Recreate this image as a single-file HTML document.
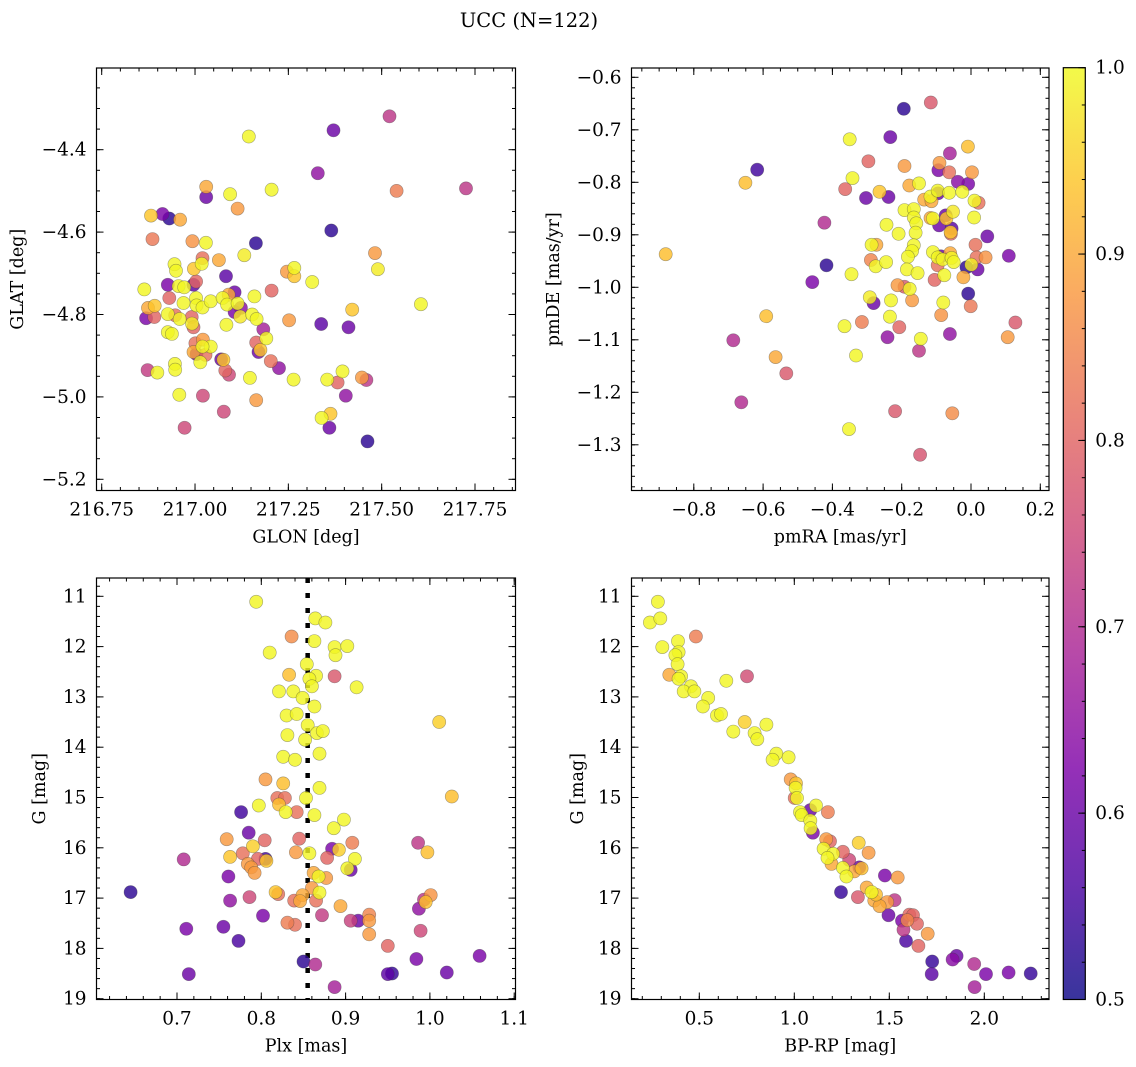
<!DOCTYPE html>
<html><head><meta charset="utf-8"><style>
html,body{margin:0;padding:0;background:#fff;}
svg{display:block;font-family:"DejaVu Serif","Liberation Serif",serif;}
</style></head><body>
<svg id="fig" width="1136" height="1067" viewBox="0 0 1136 1067" xmlns="http://www.w3.org/2000/svg">
<defs>
<linearGradient id="plasmaGrad" x1="0" y1="1" x2="0" y2="0">
<stop offset="0" stop-color="#0d0887"/><stop offset="0.125" stop-color="#4c02a1"/><stop offset="0.25" stop-color="#7e03a8"/><stop offset="0.375" stop-color="#a92395"/><stop offset="0.5" stop-color="#cc4778"/><stop offset="0.625" stop-color="#e56b5d"/><stop offset="0.75" stop-color="#f89540"/><stop offset="0.875" stop-color="#fdc328"/><stop offset="1" stop-color="#f0f921"/>
</linearGradient>
</defs>
<text x="529" y="27" font-size="19.5" text-anchor="middle">UCC (N=122)</text>
<g id="layer"></g>
</svg>
<script>
// ---- Panel 1: GLON vs GLAT ----
const p1_glon=[217.521,217.371,217.144,217.329,217.726,217.540,217.030,217.030,217.094,217.205,217.114,216.882,216.913,216.931,216.960,216.886,216.993,217.029,217.163,217.365,217.482,217.490,217.132,217.064,217.020,217.018,216.945,216.949,216.997,217.246,217.266,217.266,217.314,217.083,216.864,216.927,216.956,216.971,216.996,217.003,216.931,216.969,217.003,217.004,217.020,217.042,217.074,217.090,217.106,217.086,217.114,217.123,217.106,217.121,217.159,217.205,217.153,217.165,216.874,216.892,216.869,216.891,216.927,216.947,216.959,216.991,216.992,216.996,216.927,216.938,217.084,217.252,217.338,217.411,217.421,217.605,217.183,217.191,217.164,217.170,217.175,217.021,217.001,217.042,217.020,216.996,217.028,217.004,217.014,217.070,217.076,217.081,217.091,217.203,217.225,216.873,216.899,216.946,216.947,217.147,217.264,217.354,217.395,217.382,217.447,217.459,216.958,217.021,217.164,217.404,217.077,217.339,217.363,217.360,216.972,217.462];
const p1_glat=[-4.319,-4.353,-4.368,-4.457,-4.494,-4.500,-4.490,-4.515,-4.508,-4.497,-4.543,-4.560,-4.556,-4.567,-4.570,-4.617,-4.622,-4.626,-4.627,-4.596,-4.651,-4.690,-4.656,-4.668,-4.663,-4.677,-4.678,-4.694,-4.689,-4.696,-4.687,-4.707,-4.721,-4.707,-4.739,-4.728,-4.731,-4.734,-4.728,-4.720,-4.760,-4.772,-4.760,-4.778,-4.783,-4.768,-4.760,-4.752,-4.746,-4.776,-4.773,-4.784,-4.794,-4.805,-4.756,-4.742,-4.800,-4.811,-4.784,-4.779,-4.809,-4.806,-4.799,-4.802,-4.811,-4.806,-4.822,-4.831,-4.843,-4.847,-4.825,-4.814,-4.823,-4.831,-4.788,-4.775,-4.836,-4.858,-4.868,-4.891,-4.886,-4.861,-4.870,-4.878,-4.878,-4.891,-4.898,-4.896,-4.916,-4.909,-4.910,-4.936,-4.946,-4.913,-4.930,-4.935,-4.941,-4.920,-4.934,-4.954,-4.958,-4.958,-4.938,-4.965,-4.953,-4.959,-4.995,-4.997,-5.008,-4.997,-5.036,-5.051,-5.041,-5.075,-5.075,-5.108];
const p1_prob=[0.72,0.6,0.995,0.65,0.72,0.84,0.9,0.6,0.995,0.995,0.88,0.94,0.62,0.53,0.9,0.83,0.87,0.995,0.53,0.53,0.88,0.985,0.985,0.9,0.82,0.995,0.995,0.995,0.94,0.88,0.995,0.94,0.995,0.58,0.995,0.62,0.995,0.995,0.58,0.8,0.8,0.995,0.995,0.995,0.995,0.995,0.995,0.9,0.6,0.995,0.995,0.64,0.62,0.98,0.995,0.8,0.995,0.995,0.9,0.94,0.62,0.8,0.995,0.82,0.995,0.8,0.985,0.8,0.995,0.995,0.995,0.88,0.58,0.6,0.94,0.995,0.68,0.995,0.8,0.6,0.94,0.88,0.82,0.995,0.995,0.9,0.82,0.6,0.995,0.6,0.94,0.8,0.75,0.82,0.65,0.73,0.995,0.995,0.995,0.995,0.995,0.995,0.995,0.8,0.88,0.72,0.995,0.75,0.88,0.65,0.75,0.995,0.94,0.6,0.75,0.53];
const p1_xticks=[216.75,217.00,217.25,217.50,217.75];
const p1_xlabels=["216.75","217.00","217.25","217.50","217.75"];
const p1_yticks=[-4.4,-4.6,-4.8,-5.0,-5.2];
const p1_ylabels=["\u22124.4","\u22124.6","\u22124.8","\u22125.0","\u22125.2"];
// ---- Panel 2: pmRA vs pmDE ----
const p2_pmra=[-0.194,-0.116,-0.233,-0.350,-0.009,-0.061,-0.617,-0.651,-0.296,-0.192,-0.091,-0.094,-0.063,0.003,-0.342,-0.363,-0.038,-0.008,-0.303,-0.238,-0.264,-0.178,-0.150,-0.135,-0.114,-0.117,-0.096,-0.063,-0.025,0.010,0.022,-0.095,-0.192,-0.165,-0.165,-0.117,-0.110,-0.073,-0.052,0.009,-0.092,-0.071,-0.056,-0.058,-0.059,-0.244,-0.158,-0.160,-0.209,-0.423,0.047,-0.287,-0.273,-0.165,-0.170,-0.110,-0.087,-0.060,-0.096,-0.082,-0.056,-0.050,0.013,0.016,0.042,0.109,-0.881,-0.417,-0.458,-0.289,-0.275,-0.245,-0.182,-0.096,-0.013,0.019,0.001,-0.022,-0.077,-0.105,-0.185,-0.154,-0.345,-0.212,-0.177,-0.192,-0.008,-0.292,-0.281,-0.231,-0.170,-0.080,-0.001,-0.591,-0.234,-0.086,-0.315,-0.365,-0.207,0.128,0.106,-0.686,-0.241,-0.061,-0.145,-0.150,-0.332,-0.564,-0.533,-0.663,-0.219,-0.054,-0.352,-0.147];
const p2_pmde=[-0.660,-0.648,-0.714,-0.718,-0.732,-0.745,-0.776,-0.801,-0.760,-0.769,-0.763,-0.777,-0.781,-0.781,-0.792,-0.813,-0.799,-0.803,-0.830,-0.828,-0.818,-0.806,-0.802,-0.833,-0.836,-0.827,-0.816,-0.820,-0.818,-0.835,-0.839,-0.821,-0.853,-0.851,-0.867,-0.868,-0.869,-0.863,-0.856,-0.867,-0.882,-0.869,-0.888,-0.898,-0.895,-0.881,-0.878,-0.896,-0.898,-0.877,-0.903,-0.919,-0.919,-0.920,-0.931,-0.933,-0.941,-0.935,-0.943,-0.947,-0.944,-0.952,-0.919,-0.943,-0.943,-0.940,-0.937,-0.958,-0.990,-0.948,-0.960,-0.952,-0.942,-0.958,-0.962,-0.966,-0.957,-0.981,-0.977,-0.986,-0.966,-0.973,-0.975,-0.996,-1.003,-0.999,-1.012,-1.019,-1.030,-1.025,-1.025,-1.029,-1.036,-1.055,-1.056,-1.053,-1.066,-1.074,-1.076,-1.067,-1.095,-1.101,-1.095,-1.089,-1.098,-1.121,-1.130,-1.133,-1.164,-1.219,-1.236,-1.240,-1.270,-1.319];
const p2_prob=[0.53,0.78,0.6,0.995,0.93,0.68,0.55,0.93,0.8,0.88,0.88,0.62,0.82,0.88,0.995,0.8,0.64,0.62,0.6,0.6,0.94,0.9,0.995,0.9,0.9,0.995,0.995,0.995,0.995,0.995,0.82,0.6,0.995,0.995,0.995,0.9,0.995,0.6,0.98,0.995,0.6,0.94,0.58,0.8,0.94,0.995,0.995,0.995,0.995,0.7,0.6,0.995,0.9,0.995,0.995,0.995,0.6,0.9,0.995,0.995,0.995,0.995,0.82,0.82,0.87,0.62,0.93,0.53,0.62,0.85,0.995,0.995,0.995,0.82,0.53,0.6,0.985,0.9,0.995,0.8,0.995,0.995,0.995,0.88,0.995,0.78,0.53,0.985,0.6,0.995,0.88,0.995,0.83,0.93,0.995,0.87,0.84,0.995,0.8,0.78,0.88,0.7,0.65,0.65,0.995,0.72,0.995,0.9,0.78,0.7,0.78,0.86,0.995,0.77];
const p2_xticks=[-0.8,-0.6,-0.4,-0.2,0.0,0.2];
const p2_xlabels=["\u22120.8","\u22120.6","\u22120.4","\u22120.2","0.0","0.2"];
const p2_yticks=[-0.6,-0.7,-0.8,-0.9,-1.0,-1.1,-1.2,-1.3];
const p2_ylabels=["\u22120.6","\u22120.7","\u22120.8","\u22120.9","\u22121.0","\u22121.1","\u22121.2","\u22121.3"];
// ---- Panel 3: Plx vs G ----
const p3_plx=[0.794,0.864,0.876,0.836,0.863,0.887,0.902,0.888,0.810,0.854,0.833,0.865,0.887,0.857,0.860,0.913,0.821,0.838,0.849,0.863,0.830,0.842,1.011,0.855,0.866,0.873,0.831,0.852,0.869,0.826,0.840,0.805,0.826,0.869,0.819,0.828,0.853,1.026,0.797,0.821,0.829,0.842,0.776,0.863,0.898,0.886,0.785,0.759,0.804,0.845,0.790,0.908,0.986,0.884,0.892,0.841,0.857,0.778,0.763,0.708,0.805,0.806,0.796,0.878,0.911,0.997,0.784,0.788,0.792,0.906,0.902,0.761,0.862,0.868,0.877,0.645,0.817,0.820,0.869,0.860,0.786,0.763,0.849,0.839,0.846,0.865,0.894,1.001,0.993,0.995,0.987,0.802,0.872,0.831,0.840,0.906,0.915,0.928,0.928,0.928,0.989,0.711,0.755,0.773,0.950,0.850,0.864,0.984,1.059,0.714,0.950,0.955,1.020,0.887];
const p3_g=[11.11,11.44,11.52,11.80,11.89,12.01,11.99,12.17,12.12,12.35,12.56,12.58,12.59,12.64,12.79,12.81,12.89,12.89,13.02,13.19,13.37,13.34,13.50,13.56,13.72,13.68,13.76,13.85,14.13,14.19,14.25,14.64,14.72,14.81,15.01,15.01,15.01,14.98,15.16,15.14,15.29,15.29,15.29,15.35,15.44,15.61,15.70,15.83,15.85,15.82,15.97,15.90,15.90,16.02,16.04,16.09,16.11,16.11,16.18,16.23,16.22,16.26,16.22,16.20,16.22,16.09,16.32,16.39,16.50,16.44,16.41,16.57,16.50,16.57,16.60,16.88,16.88,16.92,16.89,16.80,16.98,17.05,16.94,17.05,17.06,17.05,17.16,16.94,17.03,17.08,17.21,17.35,17.34,17.49,17.53,17.45,17.45,17.33,17.45,17.72,17.65,17.61,17.57,17.85,17.95,18.26,18.32,18.21,18.15,18.51,18.51,18.50,18.48,18.77];
const p3_prob=[0.995,0.995,0.995,0.86,0.995,0.995,0.995,0.995,0.995,0.995,0.93,0.995,0.78,0.995,0.995,0.995,0.995,0.995,0.995,0.995,0.995,0.995,0.95,0.995,0.995,0.995,0.995,0.995,0.995,0.995,0.995,0.88,0.93,0.995,0.82,0.82,0.995,0.93,0.995,0.93,0.995,0.82,0.55,0.995,0.995,0.995,0.6,0.88,0.8,0.8,0.95,0.84,0.72,0.62,0.95,0.88,0.995,0.82,0.94,0.7,0.55,0.94,0.8,0.8,0.995,0.93,0.88,0.88,0.88,0.6,0.995,0.62,0.9,0.995,0.88,0.53,0.94,0.82,0.995,0.88,0.75,0.65,0.9,0.82,0.9,0.82,0.9,0.87,0.72,0.93,0.65,0.62,0.73,0.84,0.82,0.74,0.6,0.85,0.88,0.88,0.75,0.62,0.6,0.56,0.8,0.53,0.7,0.62,0.62,0.6,0.58,0.54,0.6,0.68];
const p3_xticks=[0.7,0.8,0.9,1.0,1.1];
const p3_xlabels=["0.7","0.8","0.9","1.0","1.1"];
const p3_yticks=[11,12,13,14,15,16,17,18,19];
const p3_ylabels=["11","12","13","14","15","16","17","18","19"];
const p3_plx_line=0.855;
// ---- Panel 4: BP-RP vs G ----
const p4_bprp=[0.282,0.240,0.295,0.482,0.305,0.388,0.391,0.374,0.386,0.342,0.404,0.642,0.751,0.391,0.456,0.418,0.474,0.547,0.519,0.593,0.614,0.739,0.853,0.679,0.791,0.805,0.905,0.970,0.886,0.981,1.009,1.007,1.002,1.014,1.114,1.177,1.084,1.030,1.039,1.084,1.098,1.086,1.168,1.188,1.339,1.391,1.154,1.204,1.175,1.256,1.289,1.196,1.256,1.342,1.354,1.316,1.274,1.477,1.544,1.246,1.335,1.381,1.407,1.430,1.421,1.449,1.489,1.528,1.496,1.567,1.605,1.625,1.595,1.646,1.575,1.702,1.588,1.653,1.726,1.854,1.833,1.947,1.723,2.009,2.128,2.244,1.949];
const p4_g=[11.11,11.52,11.44,11.80,12.01,11.89,12.11,12.17,12.35,12.56,12.59,12.68,12.59,12.64,12.79,12.89,12.89,13.02,13.19,13.37,13.34,13.50,13.55,13.69,13.72,13.84,14.13,14.20,14.25,14.64,14.72,14.81,15.01,15.01,15.16,15.29,15.25,15.29,15.35,15.46,15.70,15.61,15.83,15.87,15.90,16.10,16.02,16.12,16.20,16.08,16.24,16.32,16.40,16.39,16.41,16.47,16.57,16.55,16.59,16.88,16.98,16.79,16.88,16.93,17.05,17.16,17.08,17.04,17.34,17.45,17.33,17.34,17.44,17.51,17.63,17.71,17.85,17.95,18.26,18.15,18.22,18.31,18.51,18.51,18.48,18.50,18.77];
const p4_prob=[0.995,0.995,0.995,0.84,0.995,0.995,0.995,0.995,0.995,0.9,0.995,0.995,0.76,0.995,0.995,0.995,0.995,0.995,0.995,0.995,0.995,0.95,0.995,0.995,0.995,0.995,0.995,0.995,0.995,0.88,0.94,0.995,0.82,0.995,0.995,0.84,0.6,0.995,0.995,0.995,0.62,0.995,0.88,0.8,0.95,0.88,0.995,0.995,0.995,0.8,0.75,0.9,0.995,0.6,0.93,0.9,0.995,0.62,0.88,0.54,0.78,0.9,0.995,0.93,0.9,0.9,0.88,0.72,0.6,0.62,0.8,0.8,0.85,0.8,0.72,0.88,0.56,0.8,0.54,0.6,0.64,0.7,0.58,0.62,0.62,0.54,0.68];
const p4_xticks=[0.5,1.0,1.5,2.0];
const p4_xlabels=["0.5","1.0","1.5","2.0"];
const p4_yticks=[11,12,13,14,15,16,17,18,19];
const p4_ylabels=["11","12","13","14","15","16","17","18","19"];
// ---- Colorbar ----
const cb_ticks=[0.5,0.6,0.7,0.8,0.9,1.0];
const cb_labels=["0.5","0.6","0.7","0.8","0.9","1.0"];

const NS="http://www.w3.org/2000/svg";
const layer=document.getElementById('layer');
function mk(tag,attrs,parent){const e=document.createElementNS(NS,tag);for(const k in attrs)e.setAttribute(k,attrs[k]);(parent||layer).appendChild(e);return e;}

const stops=[[0,[13,8,135]],[0.125,[76,2,161]],[0.25,[126,3,168]],[0.375,[169,35,149]],[0.5,[204,71,120]],[0.625,[229,107,93]],[0.75,[248,149,64]],[0.875,[253,195,40]],[1,[240,249,33]]];
function plasma(p){let t=(p-0.5)/0.5;t=Math.max(0,Math.min(1,t));for(let i=1;i<stops.length;i++){if(t<=stops[i][0]){const a=stops[i-1],b=stops[i];const f=(t-a[0])/(b[0]-a[0]);const c=a[1].map((v,j)=>Math.round(v+(b[1][j]-v)*f));return 'rgb('+c.join(',')+')';}}return 'rgb(240,249,33)';}

function lin(v0,p0,k){return v=>p0+(v-v0)*k;}

function panel(cfg){
  const g=mk('g',{});
  
  
  const {L,R,T,B}=cfg;
  const cid='clip-'+cfg.name;
  const cp=mk('clipPath',{id:cid},g);mk('rect',{x:L,y:T,width:R-L,height:B-T},cp);
  const pts=mk('g',{'clip-path':'url(#'+cid+')'},g);
  
  
  if(cfg.vline!==undefined){
    const vx=cfg.sx(cfg.vline);
    const ln=mk('line',{x1:vx,x2:vx,y1:T,y2:B,stroke:'#000','stroke-width':4.5,'stroke-dasharray':'5 10'},pts);
    
    
  }
  const idx=cfg.xs.map((_,i)=>i).sort((a,b)=>cfg.ps[a]-cfg.ps[b]);
  idx.forEach(i=>{
    const c=mk('circle',{cx:cfg.sx(cfg.xs[i]).toFixed(1),cy:cfg.sy(cfg.ys[i]).toFixed(1),r:6.6,fill:plasma(cfg.ps[i]),'fill-opacity':0.82,stroke:'rgba(60,60,60,0.45)','stroke-width':0.6},pts);
    
    
  });
  const fr=mk('rect',{x:L,y:T,width:R-L,height:B-T,fill:'none',stroke:'#000','stroke-width':1.2},g);
  
  
  const tk=mk('g',{stroke:'#000','stroke-width':1},g);
  function xt(v,len){const x=cfg.sx(v);if(x<L-0.5||x>R+0.5)return;mk('line',{x1:x,x2:x,y1:B,y2:B-len},tk);mk('line',{x1:x,x2:x,y1:T,y2:T+len},tk);}
  function yt(v,len){const y=cfg.sy(v);if(y<T-0.5||y>B+0.5)return;mk('line',{x1:L,x2:L+len,y1:y,y2:y},tk);mk('line',{x1:R,x2:R-len,y1:y,y2:y},tk);}
  const x0=cfg.xticks[0]-10*cfg.xminor, x1=cfg.xticks[cfg.xticks.length-1]+10*cfg.xminor;
  for(let v=x0;v<=x1+1e-9;v+=cfg.xminor)xt(v,3.5);
  cfg.xticks.forEach(v=>xt(v,7));
  const ya=Math.min(...cfg.yticks)-10*cfg.yminor, yb=Math.max(...cfg.yticks)+10*cfg.yminor;
  for(let v=ya;v<=yb+1e-9;v+=cfg.yminor)yt(v,3.5);
  cfg.yticks.forEach(v=>yt(v,7));
  cfg.xticks.forEach((v,i)=>{const t=mk('text',{x:cfg.sx(v),y:B+25,'font-size':18.5,'text-anchor':'middle'},g);t.textContent=cfg.xlabels[i];
    
    });
  cfg.yticks.forEach((v,i)=>{const t=mk('text',{x:L-10,y:cfg.sy(v)+6,'font-size':18.5,'text-anchor':'end'},g);t.textContent=cfg.ylabels[i];
    
    });
  const xl=mk('text',{x:(L+R)/2,y:B+52,'font-size':17.5,'text-anchor':'middle'},g);xl.textContent=cfg.xtitle;
  
  
  const yl=mk('text',{x:0,y:0,'font-size':17.5,'text-anchor':'middle',transform:'translate('+cfg.ytx+','+((T+B)/2)+') rotate(-90)'},g);yl.textContent=cfg.ytitle;
  
  
}

const GY=lin(11,596.3,50.3);
panel({name:'glon-glat-panel',L:96.5,R:515.5,T:68,B:490.5,xs:p1_glon,ys:p1_glat,ps:p1_prob,sx:lin(216.75,101.7,373.3),sy:lin(-4.4,149.7,-412),xticks:p1_xticks,xlabels:p1_xlabels,yticks:p1_yticks,ylabels:p1_ylabels,xminor:0.05,yminor:0.05,xtitle:'GLON [deg]',ytitle:'GLAT [deg]',ytx:23});
panel({name:'proper-motion-panel',L:631.5,R:1049,T:68,B:490.5,xs:p2_pmra,ys:p2_pmde,ps:p2_prob,sx:lin(0,971,346.5),sy:lin(-0.6,77.3,-525),xticks:p2_xticks,xlabels:p2_xlabels,yticks:p2_yticks,ylabels:p2_ylabels,xminor:0.05,yminor:0.02,xtitle:'pmRA [mas/yr]',ytitle:'pmDE [mas/yr]',ytx:559});
panel({name:'parallax-mag-panel',L:96.5,R:515.5,T:578,B:999.5,xs:p3_plx,ys:p3_g,ps:p3_prob,sx:lin(0.7,177,843),sy:GY,xticks:p3_xticks,xlabels:p3_xlabels,yticks:p3_yticks,ylabels:p3_ylabels,xminor:0.02,yminor:0.2,xtitle:'Plx [mas]',ytitle:'G [mag]',ytx:45,vline:p3_plx_line});
panel({name:'cmd-panel',L:631.5,R:1049,T:578,B:999.5,xs:p4_bprp,ys:p4_g,ps:p4_prob,sx:lin(1,794.3,190),sy:GY,xticks:p4_xticks,xlabels:p4_xlabels,yticks:p4_yticks,ylabels:p4_ylabels,xminor:0.1,yminor:0.2,xtitle:'BP-RP [mag]',ytitle:'G [mag]',ytx:583});

const cb=mk('g',{});


const CT=67.7,CB=999.5,CL=1063.3,CR=1085.3;
const cy=lin(0.5,CB,-(CB-CT)/0.5);
mk('rect',{x:CL,y:CT,width:CR-CL,height:CB-CT,fill:'url(#plasmaGrad)','fill-opacity':0.82},cb);
mk('rect',{x:CL,y:CT,width:CR-CL,height:CB-CT,fill:'none',stroke:'#000','stroke-width':1.2},cb);
for(let v=0.5;v<=1.0001;v+=0.02){mk('line',{x1:CR,x2:CR-3.5,y1:cy(v),y2:cy(v),stroke:'#000','stroke-width':1},cb);}
cb_ticks.forEach((v,i)=>{mk('line',{x1:CR,x2:CR-7,y1:cy(v),y2:cy(v),stroke:'#000','stroke-width':1},cb);
  const t=mk('text',{x:CR+10,y:cy(v)+6,'font-size':18.5},cb);t.textContent=cb_labels[i];
  
  });
</script>
</body></html>
